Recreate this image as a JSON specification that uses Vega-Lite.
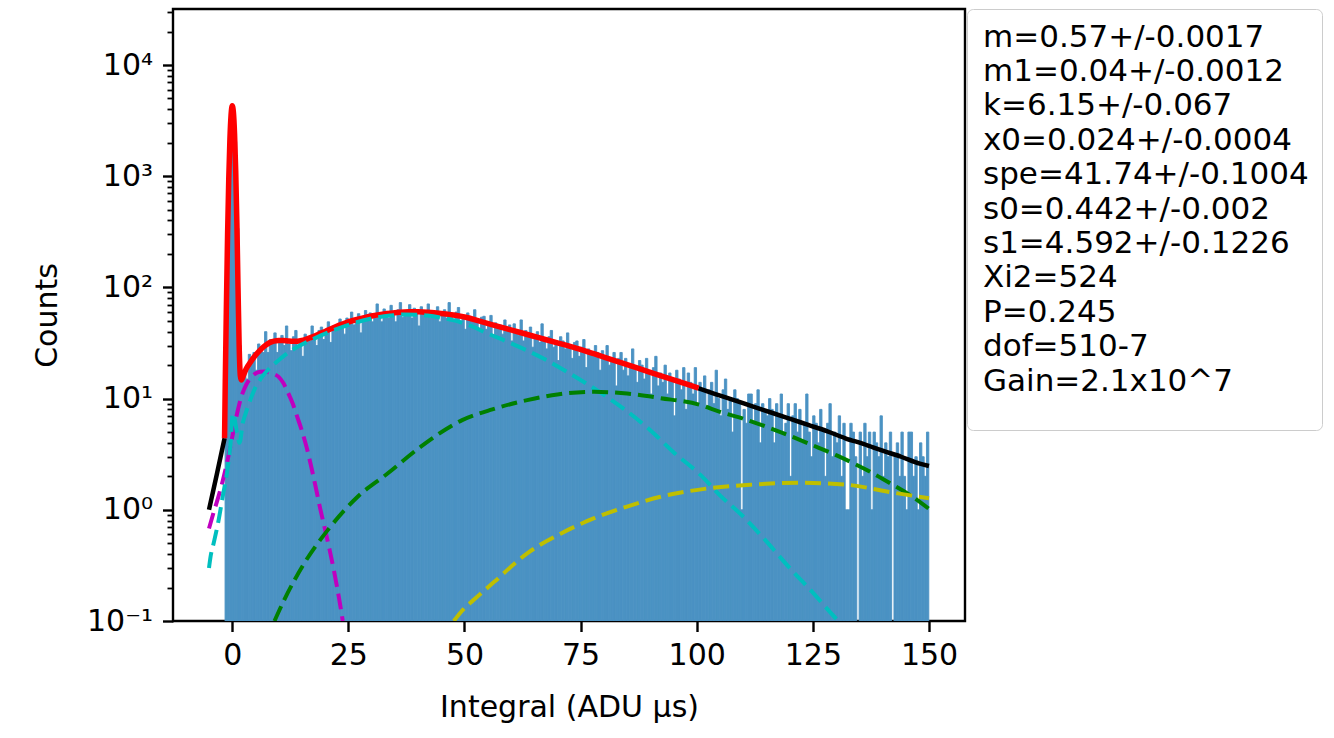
{
"$schema": "https://vega.github.io/schema/vega-lite/v6.json",
"width": 792, "height": 612,
"autosize": {"type": "none"},
"padding": {"left": 173, "top": 9, "right": 369, "bottom": 117},
"background": "white",
"config": {
 "view": {"stroke": "black", "strokeWidth": 2.4},
 "font": "DejaVu Sans",
 "axis": {"domain": false, "grid": false, "labelFont": "DejaVu Sans", "titleFont": "DejaVu Sans", "labelFontSize": 30, "titleFontSize": 30, "labelColor": "black", "titleColor": "black", "tickColor": "black", "titleFontWeight": "normal", "labelOverlap": false, "labelFlush": false}
},
"datasets": {
 "stats": [{"s":"m=0.57+/-0.0017"},{"s":"m1=0.04+/-0.0012"},{"s":"k=6.15+/-0.067"},{"s":"x0=0.024+/-0.0004"},{"s":"spe=41.74+/-0.1004"},{"s":"s0=0.442+/-0.002"},{"s":"s1=4.592+/-0.1226"},{"s":"Xi2=524"},{"s":"P=0.245"},{"s":"dof=510-7"},{"s":"Gain=2.1x10^7"}],
 "hist": [
{"x":-1.4,"c":15},{"x":-0.9,"c":420},{"x":-0.4,"c":2250},{"x":0.1,"c":4100},{"x":0.6,"c":2050},{"x":1.1,"c":340},{"x":1.6,"c":30},{"x":2.1,"c":16},{"x":2.6,"c":18},{"x":3.1,"c":15},
{"x":3.6,"c":25},{"x":4.1,"c":21},{"x":4.6,"c":26},{"x":5.1,"c":18},{"x":5.6,"c":31},{"x":6.1,"c":28},{"x":6.6,"c":26},{"x":7.1,"c":40},{"x":7.6,"c":26},{"x":8.1,"c":34},
{"x":8.6,"c":32},{"x":9.1,"c":39},{"x":9.6,"c":26},{"x":10.1,"c":34},{"x":10.6,"c":37},{"x":11.1,"c":30},{"x":11.6,"c":45},{"x":12.1,"c":31},{"x":12.6,"c":27},{"x":13.1,"c":36},
{"x":13.6,"c":41},{"x":14.1,"c":29},{"x":14.6,"c":33},{"x":15.1,"c":24},{"x":15.6,"c":38},{"x":16.1,"c":36},{"x":16.6,"c":33},{"x":17.1,"c":45},{"x":17.6,"c":35},{"x":18.1,"c":30},
{"x":18.6,"c":41},{"x":19.1,"c":44},{"x":19.6,"c":34},{"x":20.1,"c":41},{"x":20.6,"c":49},{"x":21.1,"c":32},{"x":21.6,"c":45},{"x":22.1,"c":43},{"x":22.6,"c":42},{"x":23.1,"c":52},
{"x":23.6,"c":48},{"x":24.1,"c":38},{"x":24.6,"c":53},{"x":25.1,"c":49},{"x":25.6,"c":60},{"x":26.1,"c":46},{"x":26.6,"c":50},{"x":27.1,"c":58},{"x":27.6,"c":39},{"x":28.1,"c":55},
{"x":28.6,"c":62},{"x":29.1,"c":50},{"x":29.6,"c":59},{"x":30.1,"c":49},{"x":30.6,"c":57},{"x":31.1,"c":71},{"x":31.6,"c":55},{"x":32.1,"c":49},{"x":32.6,"c":64},{"x":33.1,"c":61},
{"x":33.6,"c":53},{"x":34.1,"c":69},{"x":34.6,"c":58},{"x":35.1,"c":49},{"x":35.6,"c":63},{"x":36.1,"c":73},{"x":36.6,"c":54},{"x":37.1,"c":62},{"x":37.6,"c":57},{"x":38.1,"c":70},
{"x":38.6,"c":53},{"x":39.1,"c":65},{"x":39.6,"c":60},{"x":40.1,"c":45},{"x":40.6,"c":67},{"x":41.1,"c":62},{"x":41.6,"c":55},{"x":42.1,"c":71},{"x":42.6,"c":53},{"x":43.1,"c":62},
{"x":43.6,"c":58},{"x":44.1,"c":67},{"x":44.6,"c":49},{"x":45.1,"c":60},{"x":45.6,"c":63},{"x":46.1,"c":53},{"x":46.6,"c":73},{"x":47.1,"c":55},{"x":47.6,"c":49},{"x":48.1,"c":60},
{"x":48.6,"c":66},{"x":49.1,"c":50},{"x":49.6,"c":55},{"x":50.1,"c":42},{"x":50.6,"c":59},{"x":51.1,"c":55},{"x":51.6,"c":49},{"x":52.1,"c":63},{"x":52.6,"c":49},{"x":53.1,"c":42},
{"x":53.6,"c":54},{"x":54.1,"c":55},{"x":54.6,"c":42},{"x":55.1,"c":49},{"x":55.6,"c":56},{"x":56.1,"c":36},{"x":56.6,"c":48},{"x":57.1,"c":44},{"x":57.6,"c":46},{"x":58.1,"c":38},
{"x":58.6,"c":51},{"x":59.1,"c":41},{"x":59.6,"c":46},{"x":60.1,"c":33},{"x":60.6,"c":47},{"x":61.1,"c":41},{"x":61.6,"c":37},{"x":62.1,"c":51},{"x":62.6,"c":33},{"x":63.1,"c":41},
{"x":63.6,"c":37},{"x":64.1,"c":44},{"x":64.6,"c":29},{"x":65.1,"c":37},{"x":65.6,"c":40},{"x":66.1,"c":32},{"x":66.6,"c":47},{"x":67.1,"c":33},{"x":67.6,"c":28},{"x":68.1,"c":36},
{"x":68.6,"c":41},{"x":69.1,"c":29},{"x":69.6,"c":32},{"x":70.1,"c":22},{"x":70.6,"c":36},{"x":71.1,"c":33},{"x":71.6,"c":28},{"x":72.1,"c":39},{"x":72.6,"c":29},{"x":73.1,"c":23},
{"x":73.6,"c":32},{"x":74.1,"c":33},{"x":74.6,"c":24},{"x":75.1,"c":29},{"x":75.6,"c":34},{"x":76.1,"c":19},{"x":76.6,"c":28},{"x":77.1,"c":26},{"x":77.6,"c":24},{"x":78.1,"c":30},
{"x":78.6,"c":26},{"x":79.1,"c":18},{"x":79.6,"c":27},{"x":80.1,"c":24},{"x":80.6,"c":30},{"x":81.1,"c":20},{"x":81.6,"c":22},{"x":82.1,"c":26},{"x":82.6,"c":13},{"x":83.1,"c":23},
{"x":83.6,"c":26},{"x":84.1,"c":18},{"x":84.6,"c":23},{"x":85.1,"c":16},{"x":85.6,"c":20},{"x":86.1,"c":28},{"x":86.6,"c":18},{"x":87.1,"c":14},{"x":87.6,"c":22},{"x":88.1,"c":20},
{"x":88.6,"c":15},{"x":89.1,"c":23},{"x":89.6,"c":17},{"x":90.1,"c":11},{"x":90.6,"c":19},{"x":91.1,"c":24},{"x":91.6,"c":13},{"x":92.1,"c":17},{"x":92.6,"c":14},{"x":93.1,"c":20},
{"x":93.6,"c":11},{"x":94.1,"c":17},{"x":94.6,"c":15},{"x":95.1,"c":7},{"x":95.6,"c":18},{"x":96.1,"c":15},{"x":96.6,"c":12},{"x":97.1,"c":19},{"x":97.6,"c":8},{"x":98.1,"c":17},
{"x":98.6,"c":14},{"x":99.1,"c":11},{"x":99.6,"c":19},{"x":100.1,"c":9},{"x":100.6,"c":14},{"x":101.1,"c":12},{"x":101.6,"c":16},{"x":102.1,"c":8},{"x":102.6,"c":12},{"x":103.1,"c":14},
{"x":103.6,"c":9},{"x":104.1,"c":18},{"x":104.6,"c":10},{"x":105.1,"c":7},{"x":105.6,"c":12},{"x":106.1,"c":15},{"x":106.6,"c":8},{"x":107.1,"c":10},{"x":107.6,"c":5},{"x":108.1,"c":12},
{"x":108.6,"c":10},{"x":109.1,"c":9},{"x":109.6,"c":1},{"x":110.1,"c":8},{"x":110.6,"c":6},{"x":111.1,"c":11},{"x":111.6,"c":11},{"x":112.1,"c":6},{"x":112.6,"c":9},{"x":113.1,"c":12},
{"x":113.6,"c":4},{"x":114.1,"c":9},{"x":114.6,"c":8},{"x":115.1,"c":7},{"x":115.6,"c":10},{"x":116.1,"c":8},{"x":116.6,"c":4},{"x":117.1,"c":9},{"x":117.6,"c":7},{"x":118.1,"c":11},
{"x":118.6,"c":5},{"x":119.1,"c":6},{"x":119.6,"c":9},{"x":120.1,"c":2},{"x":120.6,"c":7},{"x":121.1,"c":9},{"x":121.6,"c":5},{"x":122.1,"c":8},{"x":122.6,"c":4},{"x":123.1,"c":6},
{"x":123.6,"c":11},{"x":124.1,"c":5},{"x":124.6,"c":3},{"x":125.1,"c":7},{"x":125.6,"c":6},{"x":126.1,"c":4},{"x":126.6,"c":8},{"x":127.1,"c":5},{"x":127.6,"c":2},{"x":128.1,"c":6},
{"x":128.6,"c":9},{"x":129.1,"c":3},{"x":129.6,"c":5},{"x":130.1,"c":4},{"x":130.6,"c":7},{"x":131.1,"c":2},{"x":131.6,"c":6},{"x":132.1,"c":1},{"x":132.6,"c":1},{"x":133.1,"c":6},
{"x":133.6,"c":5},{"x":134.1,"c":3},{"x":135.1,"c":5},{"x":135.6,"c":2},{"x":136.1,"c":6},{"x":136.6,"c":3},{"x":137.1,"c":5},{"x":137.6,"c":1},{"x":138.1,"c":5},{"x":138.6,"c":4},
{"x":139.1,"c":3},{"x":139.6,"c":7},{"x":140.1,"c":2},{"x":140.6,"c":4},{"x":141.1,"c":3},{"x":141.6,"c":5},{"x":142.6,"c":3},{"x":143.1,"c":4},{"x":143.6,"c":2},{"x":144.1,"c":5},
{"x":144.6,"c":2},{"x":145.1,"c":1},{"x":145.6,"c":5},{"x":146.1,"c":5},{"x":146.6,"c":2},{"x":147.1,"c":3},{"x":147.6,"c":1},{"x":148.1,"c":4},{"x":148.6,"c":3},{"x":149.1,"c":2},
{"x":149.6,"c":5}
 ],
 "curves": [
{"k":"kL","x":-5,"y":1.0},{"k":"kL","x":-3.3,"y":2.1},{"k":"kL","x":-1.65,"y":4.4},
{"k":"kR","x":100.4,"y":12.4},{"k":"kR","x":104,"y":11.0},{"k":"kR","x":108,"y":9.7},{"k":"kR","x":112,"y":8.5},{"k":"kR","x":116,"y":7.5},{"k":"kR","x":120,"y":6.6},{"k":"kR","x":124,"y":5.8},{"k":"kR","x":128,"y":5.1},{"k":"kR","x":132,"y":4.4},{"k":"kR","x":136,"y":3.9},{"k":"kR","x":140,"y":3.4},{"k":"kR","x":144,"y":3.0},{"k":"kR","x":148,"y":2.6},{"k":"kR","x":150,"y":2.48},
{"k":"red","x":-1.65,"y":4.4},{"k":"red","x":-1.5,"y":14},{"k":"red","x":-1.25,"y":70},{"k":"red","x":-1.0,"y":297},{"k":"red","x":-0.75,"y":931},{"k":"red","x":-0.5,"y":2132},{"k":"red","x":-0.25,"y":3551},{"k":"red","x":0,"y":4297},{"k":"red","x":0.25,"y":3776},{"k":"red","x":0.5,"y":2411},{"k":"red","x":0.75,"y":1120},{"k":"red","x":1.0,"y":381},{"k":"red","x":1.25,"y":99},{"k":"red","x":1.5,"y":29},{"k":"red","x":1.75,"y":16},{"k":"red","x":1.95,"y":14.7},{"k":"red","x":2.5,"y":16.5},{"k":"red","x":3,"y":18.5},{"k":"red","x":4,"y":21.5},{"k":"red","x":5,"y":24.5},{"k":"red","x":6,"y":27.3},{"k":"red","x":7,"y":29.8},{"k":"red","x":8,"y":31.8},{"k":"red","x":9,"y":32.9},{"k":"red","x":10,"y":33.3},{"k":"red","x":11,"y":33.3},{"k":"red","x":12,"y":33.0},{"k":"red","x":13,"y":32.8},{"k":"red","x":14,"y":32.8},{"k":"red","x":15,"y":33.3},{"k":"red","x":16,"y":34.3},{"k":"red","x":17,"y":35.5},{"k":"red","x":18,"y":37.0},{"k":"red","x":19,"y":38.6},{"k":"red","x":20,"y":40.2},{"k":"red","x":22,"y":43.8},{"k":"red","x":24,"y":47.2},{"k":"red","x":26,"y":50.4},{"k":"red","x":28,"y":53.0},{"k":"red","x":30,"y":55.3},{"k":"red","x":32,"y":57.2},{"k":"red","x":34,"y":58.7},{"k":"red","x":36,"y":59.8},{"k":"red","x":38,"y":60.4},{"k":"red","x":40,"y":60.4},{"k":"red","x":42,"y":59.9},{"k":"red","x":44,"y":58.9},{"k":"red","x":46,"y":57.6},{"k":"red","x":48,"y":56.1},{"k":"red","x":50,"y":54.2},{"k":"red","x":54,"y":48.7},{"k":"red","x":58,"y":43.7},{"k":"red","x":62,"y":39.3},{"k":"red","x":66,"y":35.3},{"k":"red","x":70,"y":31.7},{"k":"red","x":74,"y":28.5},{"k":"red","x":78,"y":25.2},{"k":"red","x":82,"y":22.2},{"k":"red","x":86,"y":19.6},{"k":"red","x":90,"y":17.2},{"k":"red","x":94,"y":15.2},{"k":"red","x":98,"y":13.4},{"k":"red","x":100.4,"y":12.4},
{"k":"m","x":-5,"y":0.68},{"k":"m","x":-4,"y":0.95},{"k":"m","x":-3,"y":1.3},{"k":"m","x":-2,"y":1.85},{"k":"m","x":-1,"y":2.8},{"k":"m","x":0,"y":4.5},{"k":"m","x":1,"y":7.2},{"k":"m","x":2,"y":10.5},{"k":"m","x":3,"y":13.3},{"k":"m","x":4,"y":15.4},{"k":"m","x":5,"y":16.8},{"k":"m","x":6,"y":17.4},{"k":"m","x":7,"y":17.5},{"k":"m","x":8,"y":17.2},{"k":"m","x":9,"y":16.6},{"k":"m","x":10,"y":15.7},{"k":"m","x":11,"y":13.8},{"k":"m","x":12,"y":11.35},{"k":"m","x":13,"y":9.08},{"k":"m","x":14,"y":6.84},{"k":"m","x":15,"y":5.13},{"k":"m","x":16,"y":3.67},{"k":"m","x":17,"y":2.45},{"k":"m","x":18,"y":1.58},{"k":"m","x":19,"y":1.0},{"k":"m","x":20,"y":0.66},{"k":"m","x":21,"y":0.43},{"k":"m","x":22,"y":0.27},{"k":"m","x":23,"y":0.16},{"k":"m","x":23.8,"y":0.1},
{"k":"c","x":-5,"y":0.3},{"k":"c","x":-4.66,"y":0.38},{"k":"c","x":-4,"y":0.5},{"k":"c","x":-3,"y":0.78},{"k":"c","x":-2,"y":1.35},{"k":"c","x":-1,"y":2.35},{"k":"c","x":-0.4,"y":3.8},{"k":"c","x":0.15,"y":7.4},{"k":"c","x":0.5,"y":6.6},{"k":"c","x":1.0,"y":5.0},{"k":"c","x":1.57,"y":4.0},{"k":"c","x":2.3,"y":6.1},{"k":"c","x":3,"y":7.6},{"k":"c","x":4,"y":10.0},{"k":"c","x":5,"y":12.6},{"k":"c","x":6,"y":14.8},{"k":"c","x":7,"y":16.8},{"k":"c","x":8.4,"y":19.4},{"k":"c","x":9.8,"y":21.8},{"k":"c","x":11,"y":24},{"k":"c","x":12.7,"y":27},{"k":"c","x":14.1,"y":29.3},{"k":"c","x":17,"y":33.6},{"k":"c","x":19,"y":36.8},{"k":"c","x":22,"y":41.5},{"k":"c","x":26,"y":47.5},{"k":"c","x":30,"y":52.5},{"k":"c","x":34,"y":55.8},{"k":"c","x":37,"y":57.0},{"k":"c","x":40,"y":56.8},{"k":"c","x":42,"y":55.8},{"k":"c","x":45,"y":53.4},{"k":"c","x":48,"y":50.2},{"k":"c","x":51.4,"y":45},{"k":"c","x":55,"y":38.5},{"k":"c","x":60,"y":31.5},{"k":"c","x":67.1,"y":22.8},{"k":"c","x":72,"y":17.5},{"k":"c","x":79.3,"y":11.3},{"k":"c","x":85,"y":7.7},{"k":"c","x":90,"y":5.2},{"k":"c","x":95,"y":3.3},{"k":"c","x":100.8,"y":2.06},{"k":"c","x":105,"y":1.35},{"k":"c","x":110,"y":0.87},{"k":"c","x":115,"y":0.52},{"k":"c","x":120,"y":0.3},{"k":"c","x":125,"y":0.18},{"k":"c","x":130,"y":0.105},{"k":"c","x":130.5,"y":0.1},
{"k":"g","x":9.1,"y":0.1},{"k":"g","x":11.2,"y":0.155},{"k":"g","x":15.5,"y":0.33},{"k":"g","x":20.6,"y":0.66},{"k":"g","x":27,"y":1.31},{"k":"g","x":33.5,"y":2.13},{"k":"g","x":40.6,"y":3.7},{"k":"g","x":49.5,"y":6.4},{"k":"g","x":56,"y":8.0},{"k":"g","x":63.5,"y":9.7},{"k":"g","x":70,"y":10.9},{"k":"g","x":77.9,"y":11.5},{"k":"g","x":85,"y":11.1},{"k":"g","x":92.2,"y":10.1},{"k":"g","x":100.8,"y":8.76},{"k":"g","x":105,"y":7.6},{"k":"g","x":110,"y":6.6},{"k":"g","x":118.7,"y":4.87},{"k":"g","x":125,"y":3.8},{"k":"g","x":130,"y":3.1},{"k":"g","x":136.6,"y":2.28},{"k":"g","x":142,"y":1.7},{"k":"g","x":146,"y":1.35},{"k":"g","x":150,"y":1.02},
{"k":"y","x":47.7,"y":0.1},{"k":"y","x":49.2,"y":0.12},{"k":"y","x":52,"y":0.155},{"k":"y","x":56.4,"y":0.225},{"k":"y","x":63.5,"y":0.406},{"k":"y","x":70.7,"y":0.61},{"k":"y","x":77.9,"y":0.84},{"k":"y","x":85,"y":1.07},{"k":"y","x":92.2,"y":1.31},{"k":"y","x":102,"y":1.55},{"k":"y","x":111.5,"y":1.68},{"k":"y","x":122.3,"y":1.75},{"k":"y","x":133,"y":1.67},{"k":"y","x":140.9,"y":1.46},{"k":"y","x":150,"y":1.27}
 ]
},
"layer": [
 {
  "data": {"name": "hist"},
  "transform": [{"bin": {"extent": [-1.65, 149.85], "step": 0.5, "nice": false}, "field": "x", "as": ["x0", "x1"]}],
  "mark": {"type": "bar", "color": "#4b92c3", "stroke": "#4b92c3", "strokeWidth": 0.9, "binSpacing": 0, "clip": true},
  "encoding": {
   "x": {"field": "x0", "type": "quantitative", "bin": "binned",
     "scale": {"domain": [-12.75, 157.75], "nice": false, "zero": false},
     "axis": {"title": "Integral (ADU µs)", "values": [0, 25, 50, 75, 100, 125, 150], "format": "d", "tickSize": 10.5, "tickWidth": 2.4, "labelPadding": 9, "titlePadding": 22}},
   "x2": {"field": "x1"},
   "y": {"field": "c", "type": "quantitative",
     "scale": {"type": "log", "domain": [0.1, 31900], "nice": false},
     "axis": {"title": "Counts", "titlePadding": 24, "labelPadding": 10,
       "values": [0.1,0.2,0.3,0.4,0.5,0.6,0.7,0.8,0.9,1,2,3,4,5,6,7,8,9,10,20,30,40,50,60,70,80,90,100,200,300,400,500,600,700,800,900,1000,2000,3000,4000,5000,6000,7000,8000,9000,10000,20000,30000],
       "labelExpr": "datum.value == 0.1 ? '10⁻¹' : datum.value == 1 ? '10⁰' : datum.value == 10 ? '10¹' : datum.value == 100 ? '10²' : datum.value == 1000 ? '10³' : datum.value == 10000 ? '10⁴' : ''",
       "tickSize": {"condition": {"test": "datum.value == 0.1 || datum.value == 1 || datum.value == 10 || datum.value == 100 || datum.value == 1000 || datum.value == 10000", "value": 10.5}, "value": 6},
       "tickWidth": {"condition": {"test": "datum.value == 0.1 || datum.value == 1 || datum.value == 10 || datum.value == 100 || datum.value == 1000 || datum.value == 10000", "value": 2.4}, "value": 1.8}}},
   "y2": {"datum": 0.1}
  }
 },
 {
  "data": {"name": "curves"},
  "transform": [{"filter": "datum.k == 'kL' || datum.k == 'kR'"}],
  "mark": {"type": "line", "color": "black", "strokeWidth": 4.5, "clip": true, "interpolate": "monotone"},
  "encoding": {"x": {"field": "x", "type": "quantitative"}, "y": {"field": "y", "type": "quantitative"}, "detail": {"field": "k"}}
 },
 {
  "data": {"name": "curves"},
  "transform": [{"filter": "datum.k == 'red'"}],
  "mark": {"type": "line", "color": "#ff0000", "strokeWidth": 5.5, "clip": true, "interpolate": "monotone", "strokeJoin": "round"},
  "encoding": {"x": {"field": "x", "type": "quantitative"}, "y": {"field": "y", "type": "quantitative"}}
 },
 {
  "data": {"name": "curves"},
  "transform": [{"filter": "datum.k == 'm'"}],
  "mark": {"type": "line", "color": "#bf00bf", "strokeWidth": 4, "strokeDash": [16, 7], "clip": true, "interpolate": "monotone"},
  "encoding": {"x": {"field": "x", "type": "quantitative"}, "y": {"field": "y", "type": "quantitative"}}
 },
 {
  "data": {"name": "curves"},
  "transform": [{"filter": "datum.k == 'c'"}],
  "mark": {"type": "line", "color": "#00bfbf", "strokeWidth": 4, "strokeDash": [16, 7], "clip": true, "interpolate": "monotone"},
  "encoding": {"x": {"field": "x", "type": "quantitative"}, "y": {"field": "y", "type": "quantitative"}}
 },
 {
  "data": {"name": "curves"},
  "transform": [{"filter": "datum.k == 'g'"}],
  "mark": {"type": "line", "color": "#008000", "strokeWidth": 4, "strokeDash": [16, 7], "clip": true, "interpolate": "monotone"},
  "encoding": {"x": {"field": "x", "type": "quantitative"}, "y": {"field": "y", "type": "quantitative"}}
 },
 {
  "data": {"name": "curves"},
  "transform": [{"filter": "datum.k == 'y'"}],
  "mark": {"type": "line", "color": "#bfbf00", "strokeWidth": 4, "strokeDash": [16, 7], "clip": true, "interpolate": "monotone"},
  "encoding": {"x": {"field": "x", "type": "quantitative"}, "y": {"field": "y", "type": "quantitative"}}
 },
 {
  "data": {"name": "stats"},
  "mark": {"type": "point", "opacity": 0},
  "encoding": {
   "color": {"field": "s", "type": "nominal",
     "scale": {"domain": ["m=0.57+/-0.0017","m1=0.04+/-0.0012","k=6.15+/-0.067","x0=0.024+/-0.0004","spe=41.74+/-0.1004","s0=0.442+/-0.002","s1=4.592+/-0.1226","Xi2=524","P=0.245","dof=510-7","Gain=2.1x10^7"], "range": ["black"]},
     "legend": {"orient": "right", "offset": 2, "title": " ", "titleOrient": "bottom", "titleFontSize": 12, "titlePadding": 10,
       "labelFont": "DejaVu Sans", "labelFontSize": 31, "labelColor": "black", "labelLimit": 600, "labelOffset": -28,
       "symbolSize": 0, "symbolOpacity": 0, "symbolStrokeWidth": 0, "symbolType": "circle",
       "rowPadding": 2.4, "padding": 13, "strokeColor": "#cccccc", "fillColor": "white", "cornerRadius": 6,
       "encode": {"legend": {"update": {"strokeWidth": {"value": 2}}}}}}
  }
 }
]
}
